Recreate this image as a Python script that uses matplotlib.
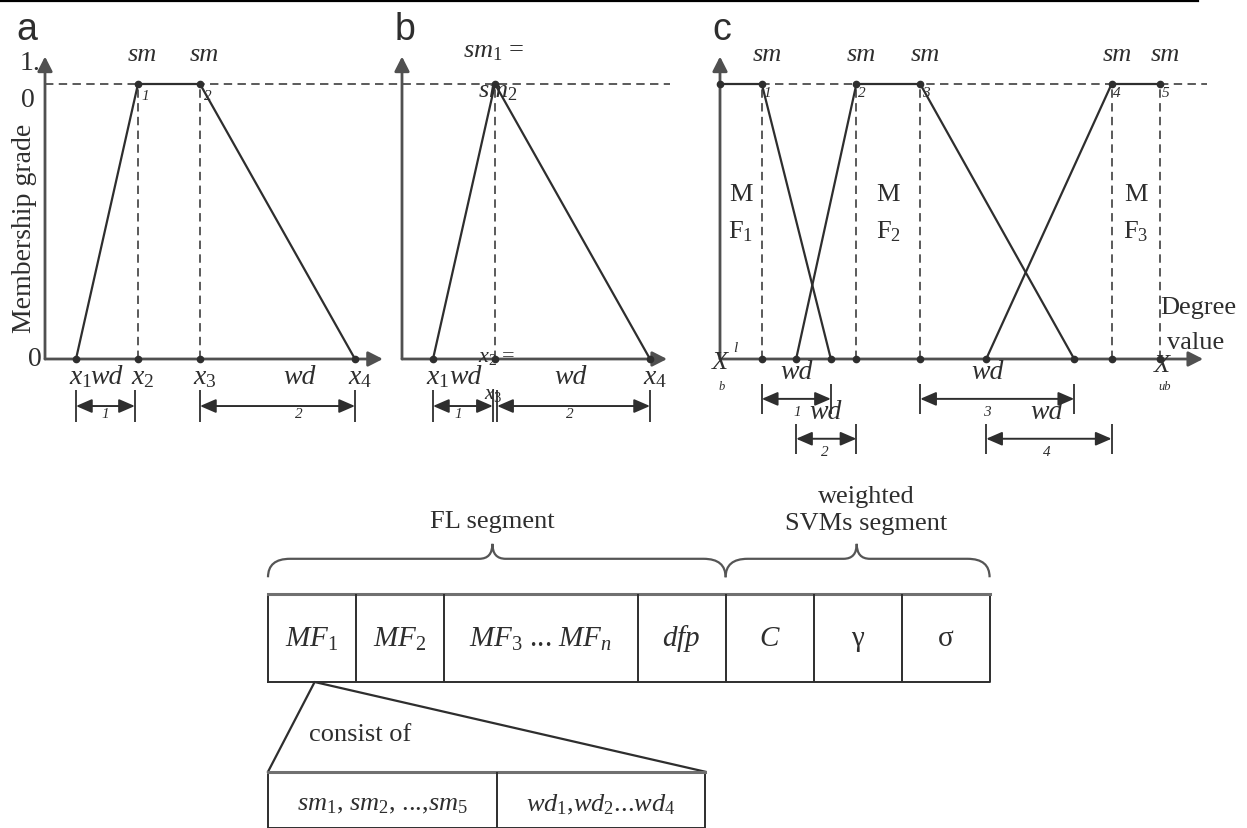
import numpy as np
import matplotlib.pyplot as plt
from matplotlib.path import Path
from matplotlib.patches import PathPatch

plt.rcParams['font.family'] = ['Liberation Serif', 'DejaVu Serif']
plt.rcParams['mathtext.fontset'] = 'custom'
plt.rcParams['mathtext.rm'] = 'Liberation Serif'
plt.rcParams['mathtext.it'] = 'Liberation Serif:italic'
plt.rcParams['mathtext.bf'] = 'Liberation Serif:bold'

INK = '#2e2e2e'
AXC = '#505050'
DASH = (0, (5.5, 3.5))

# panel a: trapezoid membership function
a_x = [1, 3, 5, 10]
a_grade = [0, 1, 1, 0]
# panel b: triangle (x2 = x3)
b_x = [1, 3, 3, 8]
b_grade = [0, 1, 1, 0]
# panel c: peak positions (sm) and widths (wd)
c_sm = [0.95, 3.1, 4.55, 8.9, 10.0]
c_wd = [1.57, 1.37, 3.5, 2.85]
c_lb, c_ub = 0.0, 10.0

# chromosome layout
cells = ['$MF_1$', '$MF_2$', '$MF_3$ ... $MF_n$', '$dfp$', '$C$', 'γ', 'σ']
cell_w = [1, 1, 2.2, 1, 1, 1, 1]
seg_names = ['FL segment', 'weighted\nSVMs segment']
seg_cells = [4, 3]
sub_cells = ['$sm_1$, $sm_2$, ...,$sm_5$', '$wd_1$,$wd_2$...$wd_4$']
sub_w = [2.6, 2.37]

W, H = 1247, 829
fig = plt.figure(figsize=(W / 100, H / 100), dpi=100)

# thin rule along the top edge
top = fig.add_axes([0, 0, 1, 1])
top.set_xlim(0, W)
top.set_ylim(H, 0)
top.axis('off')
top.plot([0, 1198], [2, 2], color='black', lw=1.6)


def panel(ox, oy, ux, uy, xmax, ymax=1.1):
    ax = fig.add_axes([ox / W, (H - oy) / H, xmax * ux / W, ymax * uy / H])
    ax.set_xlim(0, xmax)
    ax.set_ylim(0, ymax)
    ax.axis('off')
    kw = dict(arrowstyle='-|>,head_length=0.55,head_width=0.28', color=AXC,
              lw=2.0, mutation_scale=16, shrinkA=0, shrinkB=0)
    ax.annotate('', xy=(xmax, 0), xytext=(0, 0), arrowprops=kw, annotation_clip=False)
    ax.annotate('', xy=(0, ymax), xytext=(0, 0), arrowprops=kw, annotation_clip=False)
    return ax


def dim(ax, x0, x1, y, half=0.058):
    ax.annotate('', xy=(x1, y), xytext=(x0, y), annotation_clip=False,
                arrowprops=dict(arrowstyle='<|-|>,head_length=0.6,head_width=0.26',
                                color=INK, lw=1.4, mutation_scale=16,
                                shrinkA=0, shrinkB=0))
    ax.vlines([x0, x1], y - half, y + half, color=INK, lw=1.3, clip_on=False)


def dots(ax, xs, ys):
    ax.plot(xs, ys, 'o', color=INK, ms=4.5, clip_on=False, zorder=5)


# ---------------- panel a ----------------
ax = panel(45, 360, 31, 275, 10.9)
ax.text(-0.6, 1.2, 'a', family='Liberation Sans', fontsize=27, color=INK,
        ha='center', va='center')
ax.plot(a_x, a_grade, color=INK, lw=1.6, clip_on=False)
ax.vlines(a_x[1:3], 0, 1, color=INK, lw=1.1, linestyles=[DASH], clip_on=False)
ax.plot([0, 20.16], [1, 1], color=INK, lw=1.1, ls=DASH, clip_on=False)
dots(ax, a_x, [0] * 4)
dots(ax, a_x[1:3], [1, 1])
ax.text(-0.48, 1.08, '1.', fontsize=20, color=INK, ha='center', va='center')
ax.text(-0.55, 0.945, '0', fontsize=20, color=INK, ha='center', va='center')
ax.text(-0.32, 0.0, '0', fontsize=20, color=INK, ha='center', va='center')
ax.text(-0.65, 0.48, 'Membership grade', fontsize=20, color=INK, rotation=90,
        ha='center', va='center')
for x, n in zip(a_x[1:3], ['1', '2']):
    ax.text(x + 0.15, 1.11, 'sm', style='italic', fontsize=19, color=INK, ha='center', va='center')
    ax.text(x + 0.25, 0.96, n, style='italic', fontsize=11, color=INK, ha='center', va='center')
for x, n in zip(a_x, ['1', '2', '3', '4']):
    ax.text(x + 0.15, -0.065, '$x_%s$' % n, fontsize=20, color=INK, ha='center', va='center')
ax.text(1.99, -0.065, 'wd', style='italic', fontsize=20, color=INK, ha='center', va='center')
ax.text(8.2, -0.065, 'wd', style='italic', fontsize=20, color=INK, ha='center', va='center')
dim(ax, a_x[0], a_x[1] - 0.1, -0.171)
dim(ax, a_x[2], a_x[3], -0.171)
ax.text(1.94, -0.2, '1', style='italic', fontsize=11, color=INK, ha='center', va='center')
ax.text(8.2, -0.2, '2', style='italic', fontsize=11, color=INK, ha='center', va='center')

# ---------------- panel b ----------------
ax = panel(402, 360, 31, 275, 8.55)
ax.text(0.1, 1.2, 'b', family='Liberation Sans', fontsize=27, color=INK,
        ha='center', va='center')
ax.plot(b_x, b_grade, color=INK, lw=1.6, clip_on=False)
ax.vlines([b_x[1]], 0, 1, color=INK, lw=1.1, linestyles=[DASH], clip_on=False)
dots(ax, [b_x[0], b_x[1], b_x[3]], [0, 0, 0])
dots(ax, [b_x[1]], [1])
ax.text(b_x[1] - 0.05, 1.12, '$sm_1$ =', fontsize=19, color=INK, ha='center', va='center')
ax.text(b_x[1] + 0.1, 0.975, '$sm_2$', fontsize=19, color=INK, ha='center', va='center')
ax.text(b_x[1] + 0.05, 0.01, '$x_2$ =', fontsize=16, color=INK, ha='center', va='center')
ax.text(b_x[1] - 0.05, -0.125, '$x_3$', fontsize=15, color=INK, ha='center', va='center')
ax.text(b_x[0] + 0.15, -0.065, '$x_1$', fontsize=20, color=INK, ha='center', va='center')
ax.text(2.05, -0.065, 'wd', style='italic', fontsize=20, color=INK, ha='center', va='center')
ax.text(5.42, -0.065, 'wd', style='italic', fontsize=20, color=INK, ha='center', va='center')
ax.text(b_x[3] + 0.15, -0.065, '$x_4$', fontsize=20, color=INK, ha='center', va='center')
dim(ax, b_x[0], b_x[1] - 0.07, -0.171)
dim(ax, b_x[2] + 0.07, b_x[3], -0.171)
ax.text(1.8, -0.2, '1', style='italic', fontsize=11, color=INK, ha='center', va='center')
ax.text(5.42, -0.2, '2', style='italic', fontsize=11, color=INK, ha='center', va='center')

# ---------------- panel c ----------------
ax = panel(720, 360, 44, 275, 10.98)
ax.text(0.05, 1.2, 'c', family='Liberation Sans', fontsize=27, color=INK,
        ha='center', va='center')
s1, s2, s3, s4, s5 = c_sm
w1, w2, w3, w4 = c_wd
ax.plot([0, 11.07], [1, 1], color=INK, lw=1.1, ls=DASH, clip_on=False)
ax.plot([c_lb, s1, s1 + w1], [1, 1, 0], color=INK, lw=1.6, clip_on=False)
ax.plot([s2 - w2, s2, s3, s3 + w3], [0, 1, 1, 0], color=INK, lw=1.6, clip_on=False)
ax.plot([s4 - w4, s4, s5], [0, 1, 1], color=INK, lw=1.6, clip_on=False)
ax.vlines(c_sm, 0, 1, color=INK, lw=1.1, linestyles=[DASH], clip_on=False)
dots(ax, [c_lb] + c_sm, [1] * 6)
dots(ax, c_sm + [s1 + w1, s2 - w2, s3 + w3, s4 - w4], [0] * 9)
for k, x in enumerate(c_sm):
    ax.text(x + 0.12, 1.11, 'sm', style='italic', fontsize=19, color=INK, ha='center', va='center')
    ax.text(x + 0.12, 0.97, str(k + 1), style='italic', fontsize=11, color=INK, ha='center', va='center')
plateaus = [(c_lb, s1), (s2, s3), (s4, s5)]
for k, (p0, p1) in enumerate(plateaus):
    xm = (p0 + p1) / 2
    ax.text(xm, 0.6, 'M', fontsize=19, color=INK, ha='center', va='center')
    ax.text(xm, 0.465, 'F$_%d$' % (k + 1), fontsize=19, color=INK, ha='center', va='center')
ax.text(10.86, 0.19, 'Degree', fontsize=19, color=INK, ha='center', va='center')
ax.text(10.8, 0.063, 'value', fontsize=19, color=INK, ha='center', va='center')
ax.text(c_lb, -0.01, 'X', style='italic', fontsize=19, color=INK, ha='center', va='center')
ax.text(c_lb + 0.35, 0.04, 'l', style='italic', fontsize=11, color=INK, ha='center', va='center')
ax.text(c_lb + 0.03, -0.1, 'b', style='italic', fontsize=9, color=INK, ha='center', va='center')
ax.text(c_ub + 0.05, -0.02, 'X', style='italic', fontsize=19, color=INK, ha='center', va='center')
ax.text(c_ub + 0.1, -0.1, 'ub', style='italic', fontsize=9, color=INK, ha='center', va='center')
spans = [(s1, s1 + w1, -0.145), (s2 - w2, s2, -0.29),
         (s3, s3 + w3, -0.145), (s4 - w4, s4, -0.29)]
lab_x = [1.75, 2.39, 6.07, 7.42]
for k, (x0, x1, y) in enumerate(spans):
    dim(ax, x0, x1, y, half=0.055)
    ax.text(lab_x[k], y + 0.098, 'wd', style='italic', fontsize=20, color=INK, ha='center', va='center')
    ax.text(lab_x[k], y - 0.047, str(k + 1), style='italic', fontsize=11, color=INK, ha='center', va='center')

# ---------------- chromosome ----------------
U = 88
cx = fig.add_axes([268 / W, 0.8 / H, 8.4 * U / W, 4.05 * U / H])
cx.set_xlim(0, 8.4)
cx.set_ylim(-1.65, 2.4)
cx.axis('off')

edges = np.concatenate([[0], np.cumsum(cell_w)])
cx.plot([0, edges[-1], edges[-1], 0, 0], [0, 0, 1, 1, 0], color=INK, lw=1.4, clip_on=False)
cx.plot([0, edges[-1]], [1, 1], color='#707070', lw=2.2, clip_on=False)
cx.vlines(edges[1:-1], 0, 1, color=INK, lw=1.4)
for k, lab in enumerate(cells):
    cx.text((edges[k] + edges[k + 1]) / 2, 0.5, lab, fontsize=21, color=INK,
            ha='center', va='center')


def brace(ax, x0, x1, xc, yb=1.19, yt=1.40, yc=1.57, r=0.25):
    verts = [(x0, yb), (x0, yt), (x0 + r, yt), (xc - r * 0.6, yt),
             (xc, yt), (xc, yc), (xc, yt), (xc + r * 0.6, yt),
             (x1 - r, yt), (x1, yt), (x1, yb)]
    codes = [Path.MOVETO, Path.CURVE3, Path.CURVE3, Path.LINETO,
             Path.CURVE3, Path.CURVE3, Path.CURVE3, Path.CURVE3,
             Path.LINETO, Path.CURVE3, Path.CURVE3]
    ax.add_patch(PathPatch(Path(verts, codes), fill=False, edgecolor='#555555',
                           lw=1.6, clip_on=False))


seg_edges = np.concatenate([[0], np.cumsum(seg_cells)])
cusps = [2.55, 6.69]
for k, name in enumerate(seg_names):
    e0, e1 = edges[seg_edges[k]], edges[seg_edges[k + 1]]
    brace(cx, e0, e1, cusps[k])
cx.text(cusps[0], 1.83, seg_names[0], fontsize=19, color=INK, ha='center', va='center')
cx.text(6.8, 1.96, seg_names[1], fontsize=19, color=INK, ha='center', va='center',
        linespacing=1.3)

# zoom wedge from MF1 to the sub-box
sub_edges = np.concatenate([[0], np.cumsum(sub_w)])
top_y, bot_y = -1.02, -1.66
cx.plot([0, 0.53, sub_edges[-1]], [top_y, 0, top_y], color=INK, lw=1.6, clip_on=False)
cx.plot([0, sub_edges[-1], sub_edges[-1], 0, 0], [bot_y, bot_y, top_y, top_y, bot_y],
        color=INK, lw=1.4, clip_on=False)
cx.plot([0, sub_edges[-1]], [top_y, top_y], color='#707070', lw=2.2, clip_on=False)
cx.vlines(sub_edges[1:-1], bot_y, top_y, color=INK, lw=1.4, clip_on=False)
cx.text(1.05, -0.59, 'consist of', fontsize=19, color=INK, ha='center', va='center')
for k, lab in enumerate(sub_cells):
    cx.text((sub_edges[k] + sub_edges[k + 1]) / 2, -1.39, lab, fontsize=19, color=INK,
            ha='center', va='center')

fig.savefig('out.png', dpi=100)
